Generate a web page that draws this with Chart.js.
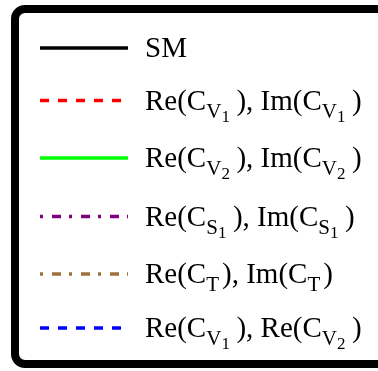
<!DOCTYPE html>
<html>
<head>
<meta charset="utf-8">
<script src="https://cdn.jsdelivr.net/npm/chart.js@4.4.1/dist/chart.umd.min.js"></script>
<style>
  html, body { margin: 0; padding: 0; background: #fff; }
  #wrap { width: 378px; height: 371px; position: relative; }
</style>
</head>
<body>
<div id="wrap"><canvas id="legendChart" width="378" height="371"></canvas></div>
<script>
  // series names, split into [text, level] runs (0 = normal, 1 = subscript, 2 = sub-subscript)
  var seriesNames = [
    [['SM', 0]],
    [['Re(C', 0], ['V', 1], ['1', 2], ['), Im(C', 0], ['V', 1], ['1', 2], [')', 0]],
    [['Re(C', 0], ['V', 1], ['2', 2], ['), Im(C', 0], ['V', 1], ['2', 2], [')', 0]],
    [['Re(C', 0], ['S', 1], ['1', 2], ['), Im(C', 0], ['S', 1], ['1', 2], [')', 0]],
    [['Re(C', 0], ['T', 1], ['), Im(C', 0], ['T', 1], [')', 0]],
    [['Re(C', 0], ['V', 1], ['1', 2], ['), Re(C', 0], ['V', 1], ['2', 2], [')', 0]]
  ];
  var seriesColors = ['#000000', '#ff0000', '#00ff00', '#800080', '#a0703c', '#0000ff'];
  var seriesDash = [[], [9, 9], [], [3, 9, 9, 8], [3, 9, 9, 8], [9, 9]];

  // legend layout
  var rowY = [48, 100.5, 158, 216.5, 274, 328];
  var sampleX0 = 40, sampleX1 = 128, textX = 145;
  var fontSizes = [29, 21, 17];
  var levelDrop = [0, 8, 12];
  var scriptSpace = [0, 3, 6.5];
  var family = '"Liberation Serif", "Times New Roman", serif';

  function drawRich(ctx, runs, x, baseline) {
    for (var i = 0; i < runs.length; i++) {
      var txt = runs[i][0], lvl = runs[i][1];
      if (i > 0 && lvl === 0) {
        x += scriptSpace[runs[i - 1][1]];
      }
      ctx.font = fontSizes[lvl] + 'px ' + family;
      ctx.fillText(txt, x, baseline + levelDrop[lvl]);
      x += ctx.measureText(txt).width;
    }
  }

  var legendBoxPlugin = {
    id: 'legendBox',
    afterDraw: function (chart) {
      var ctx = chart.ctx;
      ctx.save();
      // frame
      ctx.lineWidth = 8;
      ctx.strokeStyle = '#000';
      ctx.beginPath();
      ctx.roundRect(15, 9, 420, 355, 10);
      ctx.stroke();

      chart.data.datasets.forEach(function (ds, i) {
        var y = rowY[i];
        ctx.save();
        ctx.strokeStyle = ds.borderColor;
        ctx.lineWidth = ds.borderWidth;
        ctx.setLineDash(ds.borderDash || []);
        ctx.lineCap = 'butt';
        ctx.beginPath();
        ctx.moveTo(sampleX0, y);
        ctx.lineTo(sampleX1, y);
        ctx.stroke();
        ctx.restore();

        ctx.fillStyle = '#000';
        ctx.textBaseline = 'alphabetic';
        drawRich(ctx, ds.nameRuns, textX, y + 9);
      });
      ctx.restore();
    }
  };

  var datasets = seriesNames.map(function (runs, i) {
    return {
      label: runs.map(function (r) { return r[0]; }).join(''),
      nameRuns: runs,
      data: [],
      borderColor: seriesColors[i],
      borderDash: seriesDash[i],
      borderWidth: 3.5
    };
  });

  new Chart(document.getElementById('legendChart'), {
    type: 'line',
    data: { labels: [], datasets: datasets },
    options: {
      responsive: false,
      animation: false,
      events: [],
      plugins: { legend: { display: false }, tooltip: { enabled: false } },
      scales: { x: { display: false }, y: { display: false } }
    },
    plugins: [legendBoxPlugin]
  });
</script>
</body>
</html>
